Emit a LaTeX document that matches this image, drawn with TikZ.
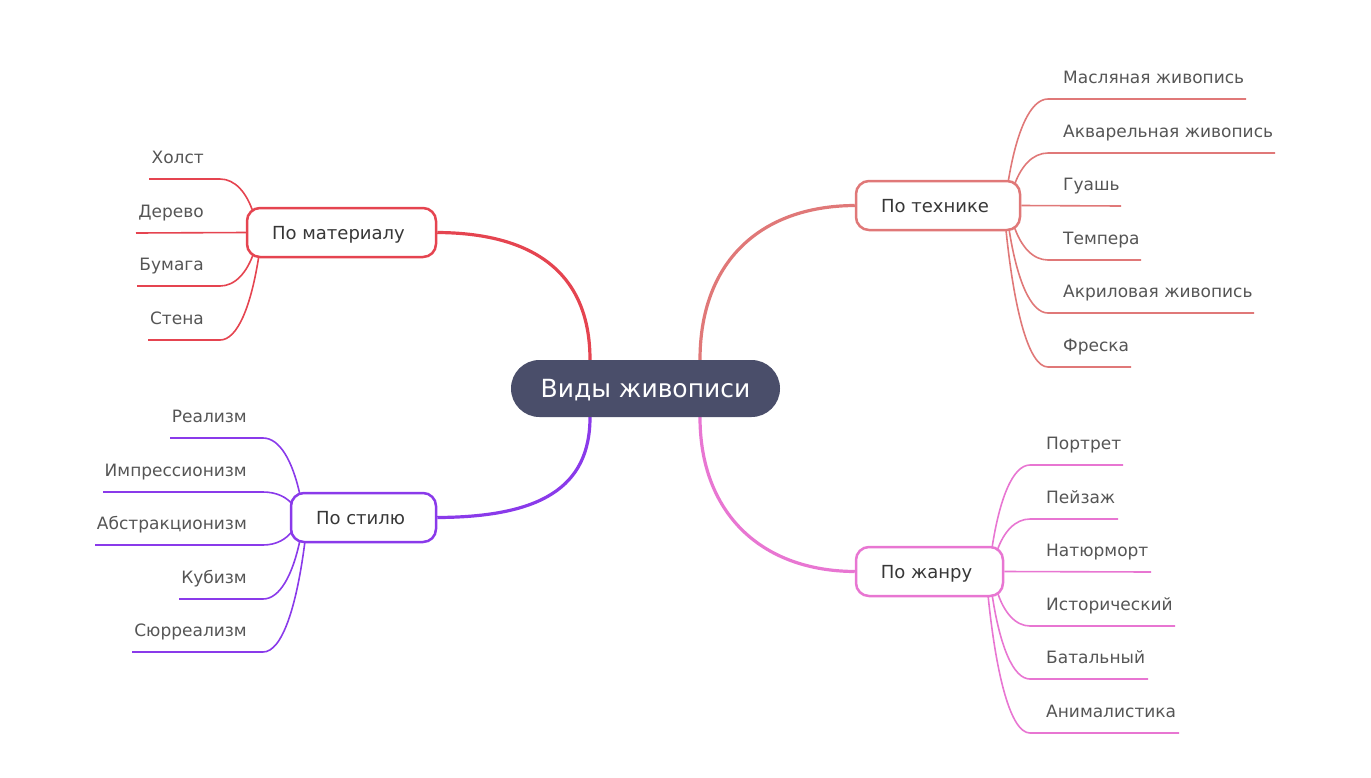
\documentclass[tikz,border=0pt]{standalone}
\usepackage{fontspec}
\setmainfont{DejaVu Sans}
\usetikzlibrary{calc,backgrounds}
\definecolor{cfill}{RGB}{74,78,106}
\definecolor{cmat}{RGB}{229,68,80}
\definecolor{ctech}{RGB}{224,120,120}
\definecolor{csty}{RGB}{138,58,234}
\definecolor{cgen}{RGB}{232,118,210}
\definecolor{leaftxt}{RGB}{85,85,85}
\definecolor{brtxt}{RGB}{55,55,55}
\newcommand\mmtwig[6]{%
  \pgfmathsetmacro\pax{#2+0.2*(#4-#2)}%
  \pgfmathsetmacro\pay{#3+0.6*(#5-#3)}%
  \pgfmathsetmacro\pbx{#2+0.55*(#4-#2)}%
  \draw[#1] (#2,#3) .. controls (\pax,\pay) and (\pbx,#5) .. (#4,#5) -- (#6,#5);%
}
\tikzset{
  centernode/.style={fill=cfill, draw=none, rounded corners=28.5pt, minimum width=269pt, minimum height=57pt,
    text=white, font=\fontsize{25}{29}\selectfont, text height=18pt, text depth=0pt, inner sep=0pt},
  branch/.style={draw=#1, line width=2.5pt, fill=white, rounded corners=13pt, minimum height=49pt,
    text=brtxt, font=\fontsize{18}{22}\selectfont, text height=13pt, text depth=0pt, inner sep=0pt,
    execute at end node=\hspace*{6pt}},
  leaf/.style={text=leaftxt, font=\fontsize{17}{20}\selectfont, inner sep=0pt},
  trunk/.style={draw=#1, line width=3.2pt},
  twig/.style={draw=#1, line width=1.6pt},
}
\begin{document}
\begin{tikzpicture}[x=1pt,y=-1pt]
\useasboundingbox (0,0) rectangle (1371,777);
% nodes
\node[centernode] (c) at (645.5,388.5) {Виды живописи};
\node[branch=cmat, minimum width=189pt] (mat) at (341.5,232.5) {По материалу};
\node[branch=ctech, minimum width=164pt] (tech) at (938,205.5) {По технике};
\node[branch=csty, minimum width=145pt] (sty) at (363.5,517.5) {По стилю};
\node[branch=cgen, minimum width=147pt] (gen) at (929.5,571.5) {По жанру};
% technique leaves
\node[leaf, anchor=base west] (t1) at (1063,83) {Масляная живопись};
\node[leaf, anchor=base west] (t2) at (1063,137) {Акварельная живопись};
\node[leaf, anchor=base west] (t3) at (1063,190) {Гуашь};
\node[leaf, anchor=base west] (t4) at (1063,244) {Темпера};
\node[leaf, anchor=base west] (t5) at (1063,297) {Акриловая живопись};
\node[leaf, anchor=base west] (t6) at (1063,351) {Фреска};
% genre leaves
\node[leaf, anchor=base west] (g1) at (1046,449) {Портрет};
\node[leaf, anchor=base west] (g2) at (1046,503) {Пейзаж};
\node[leaf, anchor=base west] (g3) at (1046,556) {Натюрморт};
\node[leaf, anchor=base west] (g4) at (1046,610) {Исторический};
\node[leaf, anchor=base west] (g5) at (1046,663) {Батальный};
\node[leaf, anchor=base west] (g6) at (1046,717) {Анималистика};
% material leaves
\node[leaf, anchor=base east] (m1) at (204,163) {Холст};
\node[leaf, anchor=base east] (m2) at (204,217) {Дерево};
\node[leaf, anchor=base east] (m3) at (204,270) {Бумага};
\node[leaf, anchor=base east] (m4) at (204,324) {Стена};
% style leaves
\node[leaf, anchor=base east] (s1) at (247,422) {Реализм};
\node[leaf, anchor=base east] (s2) at (247,476) {Импрессионизм};
\node[leaf, anchor=base east] (s3) at (247,529) {Абстракционизм};
\node[leaf, anchor=base east] (s4) at (247,583) {Кубизм};
\node[leaf, anchor=base east] (s5) at (247,636) {Сюрреализм};
\begin{scope}[on background layer]
% trunks
\draw[trunk=cmat] ($(c.north)+(-55.5,0)$) .. controls (590,270) and (530,233) .. (mat.east);
\draw[trunk=ctech] ($(c.north)+(54.5,0)$) .. controls (700,262) and (760,206) .. (tech.west);
\draw[trunk=csty] ($(c.south)+(-55.5,0)$) .. controls (590,488) and (540,517) .. (sty.east);
\draw[trunk=cgen] ($(c.south)+(54.5,0)$) .. controls (700,512) and (760,571) .. (gen.west);
% technique twigs
\mmtwig{twig=ctech}{1008}{183}{1048}{99}{1246}
\mmtwig{twig=ctech}{1014}{186}{1048}{153}{1275}
\draw[twig=ctech] (tech.east) -- (1121,206);
\mmtwig{twig=ctech}{1014}{226}{1048}{260}{1141}
\mmtwig{twig=ctech}{1009}{229}{1048}{313}{1254}
\mmtwig{twig=ctech}{1006}{230}{1048}{367}{1131}
% genre twigs
\mmtwig{twig=cgen}{992}{548}{1030}{465}{1123}
\mmtwig{twig=cgen}{997}{551}{1030}{519}{1118}
\draw[twig=cgen] (gen.east) -- (1151,572);
\mmtwig{twig=cgen}{997}{591}{1030}{626}{1175}
\mmtwig{twig=cgen}{992}{594}{1030}{679}{1148}
\mmtwig{twig=cgen}{988}{595}{1030}{733}{1179}
% material twigs
\mmtwig{twig=cmat}{253}{212}{220}{179}{149}
\draw[twig=cmat] (mat.west) -- (136,233);
\mmtwig{twig=cmat}{254}{252}{220}{286}{137}
\mmtwig{twig=cmat}{259}{255}{220}{340}{148}
% style twigs
\mmtwig{twig=csty}{300}{495}{263}{438}{170}
\mmtwig{twig=csty}{293}{505}{263}{492}{103}
\mmtwig{twig=csty}{293}{530}{263}{545}{95}
\mmtwig{twig=csty}{300}{540}{263}{599}{179}
\mmtwig{twig=csty}{305}{541}{263}{652}{132}
\end{scope}
\end{tikzpicture}
\end{document}
